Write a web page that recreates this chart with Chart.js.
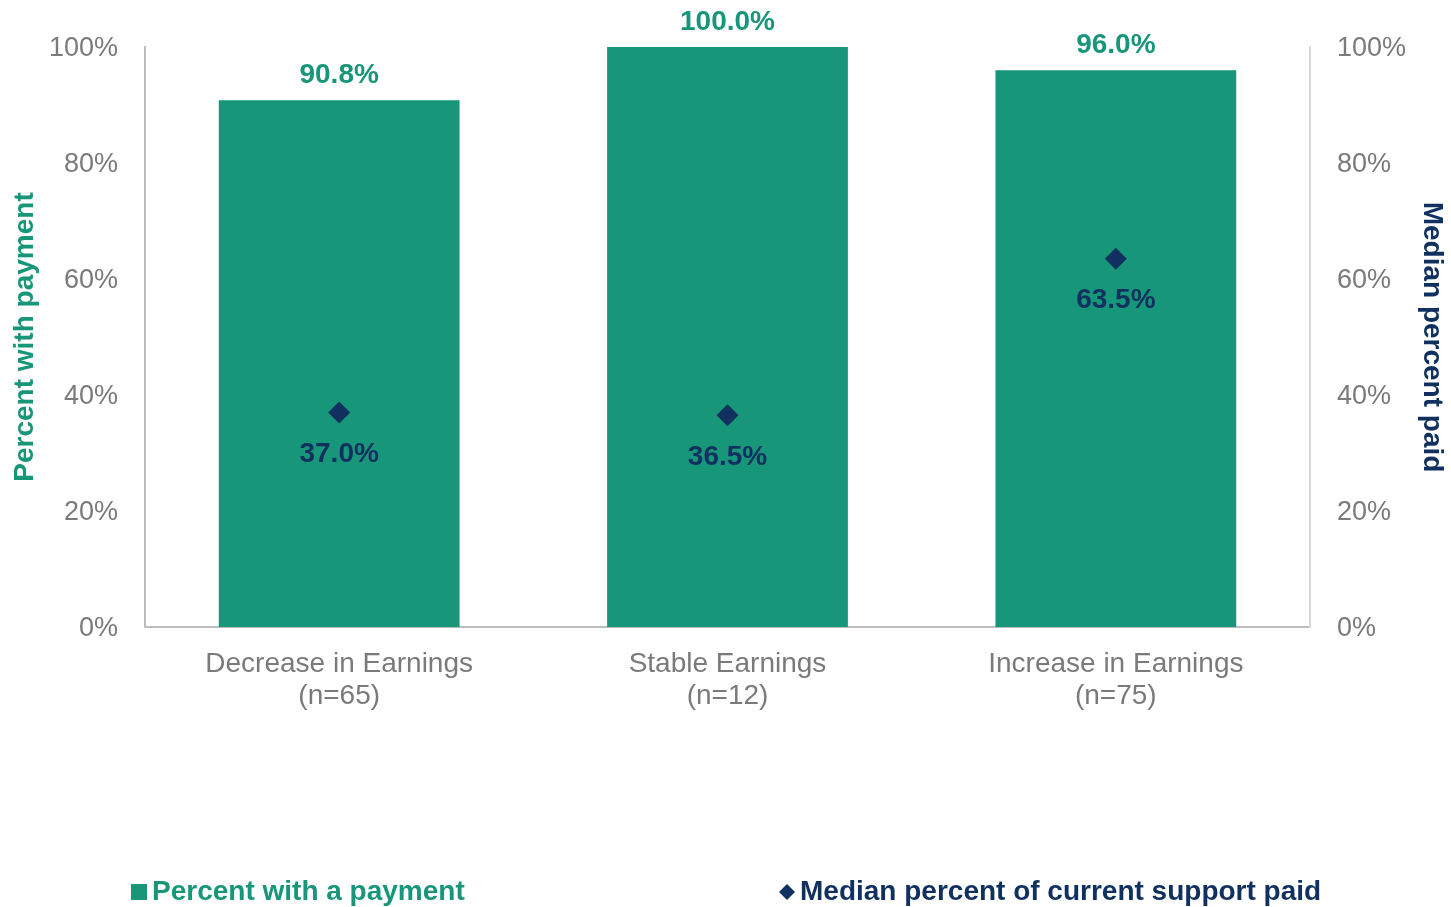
<!DOCTYPE html>
<html>
<head>
<meta charset="utf-8">
<script src="https://cdn.jsdelivr.net/npm/chart.js@4/dist/chart.umd.min.js"></script>
<style>
  html, body { margin: 0; padding: 0; background: #ffffff; }
  #wrap { width: 1451px; height: 907px; position: relative; }
</style>
</head>
<body>
<div id="wrap"><canvas id="chart" width="1451" height="907"></canvas></div>
<script>
const categories = [
  ['Decrease in Earnings', '(n=65)'],
  ['Stable Earnings', '(n=12)'],
  ['Increase in Earnings', '(n=75)']
];
const percentWithPayment = [90.8, 100.0, 96.0];
const medianPercentPaid = [37.0, 36.5, 63.5];
const axisTicks = [0, 20, 40, 60, 80, 100];
const seriesNames = ['Percent with a payment', 'Median percent of current support paid'];
const axisTitles = ['Percent with payment', 'Median percent paid'];

const TEAL = '#17967a';
const NAVY = '#10305f';
const GREY = '#7a7a7a';
const FONT = "'Liberation Sans', Arial, sans-serif";

// value labels above bars and below the diamond markers
const valueLabels = {
  id: 'valueLabels',
  afterDatasetsDraw(chart) {
    const ctx = chart.ctx;
    ctx.save();
    ctx.font = 'bold 28px ' + FONT;
    ctx.textAlign = 'center';
    ctx.textBaseline = 'middle';
    chart.data.datasets.forEach((ds, i) => {
      const meta = chart.getDatasetMeta(i);
      meta.data.forEach((el, j) => {
        const txt = ds.data[j].toFixed(1) + '%';
        if (ds.type === 'line') {
          ctx.fillStyle = NAVY;
          ctx.fillText(txt, el.x, el.y + 42);
        } else {
          ctx.fillStyle = TEAL;
          ctx.fillText(txt, el.x, el.y - 25);
        }
      });
    });
    ctx.restore();
  }
};

// two-item legend along the bottom edge
const bottomLegend = {
  id: 'bottomLegend',
  afterDraw(chart) {
    const ctx = chart.ctx;
    const y = 892;
    ctx.save();
    ctx.font = 'bold 28px ' + FONT;
    ctx.textBaseline = 'middle';
    ctx.textAlign = 'left';
    // bar series: filled square
    ctx.fillStyle = TEAL;
    ctx.fillRect(131, y - 8, 16, 16);
    ctx.fillText(seriesNames[0], 152, y);
    // marker series: diamond
    ctx.fillStyle = NAVY;
    const cx = 787, r = 8;
    ctx.beginPath();
    ctx.moveTo(cx, y - r);
    ctx.lineTo(cx + r, y);
    ctx.lineTo(cx, y + r);
    ctx.lineTo(cx - r, y);
    ctx.closePath();
    ctx.fill();
    ctx.fillText(seriesNames[1], 800, y);
    ctx.restore();
  }
};

const pctTick = v => v + '%';

new Chart(document.getElementById('chart'), {
  data: {
    labels: categories,
    datasets: [
      {
        type: 'line',
        label: seriesNames[1],
        data: medianPercentPaid,
        yAxisID: 'y1',
        showLine: false,
        pointStyle: 'rectRot',
        pointRadius: 11,
        pointHoverRadius: 11,
        backgroundColor: NAVY,
        borderColor: NAVY,
        borderWidth: 0,
        order: 0
      },
      {
        type: 'bar',
        label: seriesNames[0],
        data: percentWithPayment,
        yAxisID: 'y',
        backgroundColor: TEAL,
        borderWidth: 0,
        barPercentage: 0.62,
        categoryPercentage: 1.0,
        order: 1
      }
    ]
  },
  options: {
    responsive: false,
    animation: false,
    events: [],
    layout: { padding: { top: 47, left: 0, right: 0, bottom: 0 } },
    plugins: {
      legend: { display: false },
      tooltip: { enabled: false }
    },
    scales: {
      x: {
        grid: { display: false },
        border: { display: true, color: '#bdbdbd', width: 2 },
        ticks: {
          color: GREY,
          font: { family: FONT, size: 28, lineHeight: 1.15 },
          padding: 13,
          maxRotation: 0
        },
        afterFit(s) { s.height = 280; }
      },
      y: {
        position: 'left',
        min: 0,
        max: 100,
        afterBuildTicks(s) { s.ticks = axisTicks.map(v => ({ value: v })); },
        grid: { display: false },
        border: { display: true, color: '#bdbdbd', width: 2 },
        ticks: {
          color: GREY,
          font: { family: FONT, size: 27 },
          padding: 19,
          labelOffset: 2,
          callback: pctTick
        },
        title: {
          display: true,
          text: axisTitles[0],
          color: TEAL,
          font: { family: FONT, size: 28, weight: 'bold' },
          padding: { top: 8, bottom: 0 }
        },
        afterFit(s) { s.width = 145; }
      },
      y1: {
        position: 'right',
        min: 0,
        max: 100,
        afterBuildTicks(s) { s.ticks = axisTicks.map(v => ({ value: v })); },
        grid: { display: false },
        border: { display: true, color: '#d9d9d9', width: 2 },
        ticks: {
          color: GREY,
          font: { family: FONT, size: 27 },
          padding: 19,
          labelOffset: 2,
          callback: pctTick
        },
        title: {
          display: true,
          text: axisTitles[1],
          color: NAVY,
          font: { family: FONT, size: 28, weight: 'bold' },
          padding: { top: 2, bottom: 0 }
        },
        afterFit(s) { s.width = 141; }
      }
    }
  },
  plugins: [valueLabels, bottomLegend]
});
</script>
</body>
</html>
